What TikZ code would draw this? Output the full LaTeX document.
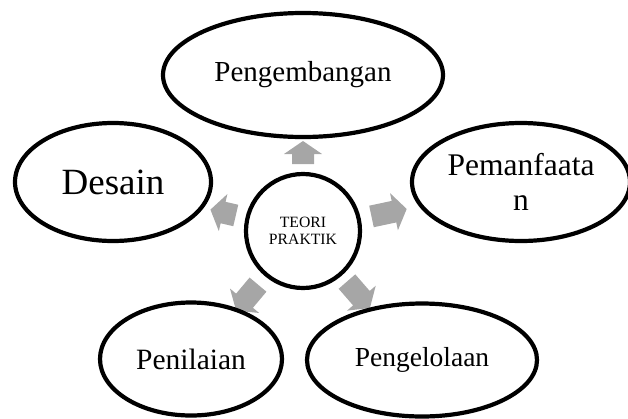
\documentclass[tikz,border=0pt]{standalone}
\usepackage{fontspec}
\setmainfont{Liberation Serif}
\usetikzlibrary{shapes.geometric}
\definecolor{arrowgray}{HTML}{A6A6A6}
\tikzset{
  bubble/.style={ellipse, draw=black, line width=4.2pt, fill=white, inner sep=0pt, align=center},
  radarrow/.style={fill=arrowgray},
}
\begin{document}
\begin{tikzpicture}[x=1pt,y=1pt]
\useasboundingbox (0,0) rectangle (628,-418);
% centre position for arrows
\coordinate (cc) at (303,-231);
% radial block arrows (drawn first, ellipses cover their tips)
\foreach \a/\r/\R in {90/67/90, 12/70/106, 167/69/95, -130/70/104, -49/67/102}{
  \fill[radarrow, shift={(cc)}, rotate=\a]
    (\r,-11) -- ({\R-13},-11) -- ({\R-13},-19) -- (\R,0) -- ({\R-13},19) -- ({\R-13},11) -- (\r,11) -- cycle;
}
\node[circle, draw=black, line width=4.2pt, fill=white, minimum size=114pt, inner sep=0pt, align=center,
      font=\fontsize{15.7}{17}\selectfont] (c) at (cc) {TEORI\\PRAKTIK};
\node[bubble, minimum width=280pt, minimum height=124pt, font=\fontsize{29}{32}\selectfont] (peng) at (303,-75) {Pengembangan};
\node[bubble, minimum width=196pt, minimum height=118pt, font=\fontsize{37}{40}\selectfont] (des) at (113,-182) {Desain};
\node[bubble, minimum width=218pt, minimum height=118pt, font=\fontsize{31.5}{35}\selectfont] (pem) at (521,-182) {Pemanfaata\\n};
\node[bubble, minimum width=182pt, minimum height=113pt, font=\fontsize{29.5}{32}\selectfont] (pen) at (191,-359) {Penilaian};
\node[bubble, minimum width=230pt, minimum height=113pt, font=\fontsize{27.5}{30}\selectfont] (pgl) at (422,-360) {Pengelolaan};
\end{tikzpicture}
\end{document}
